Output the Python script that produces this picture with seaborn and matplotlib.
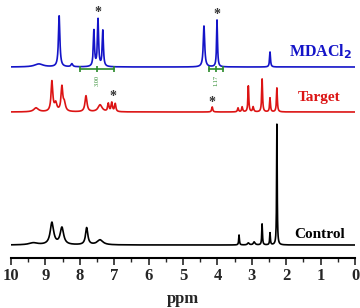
import matplotlib
matplotlib.use('Agg')
import matplotlib.pyplot as plt
import numpy as np
import pandas as pd
import seaborn as sns
from matplotlib.ticker import MultipleLocator

# Peak lists (ppm, height, half width)
blue_pos = [9.19, 8.60, 8.23, 7.59, 7.47, 7.33, 4.39, 4.01, 2.47]
blue_h = [3, 51, 3, 36, 47, 36, 41, 47, 15]
blue_w = [0.15, 0.025, 0.03, 0.02, 0.02, 0.02, 0.025, 0.016, 0.016]

red_pos = [9.27, 8.81, 8.70, 8.52, 8.45, 7.82, 7.41, 7.17, 7.07, 6.97,
           4.15, 3.40, 3.28, 3.10, 2.96, 2.70, 2.47, 2.27]
red_h = [4, 30, 8, 24, 8, 16, 7, 8, 9, 8, 5, 4, 5, 26, 5, 33, 14, 24]
red_w = [0.08, 0.03, 0.04, 0.03, 0.04, 0.035, 0.07, 0.022, 0.022, 0.022,
         0.018, 0.018, 0.018, 0.015, 0.02, 0.015, 0.015, 0.015]

black_pos = [9.35, 8.81, 8.52, 7.80, 7.41, 3.37, 3.10, 2.93, 2.70, 2.47, 2.27]
black_h = [2, 22, 17, 17, 5, 10, 2, 3, 21, 12, 121]
black_w = [0.15, 0.06, 0.06, 0.04, 0.1, 0.012, 0.03, 0.03, 0.012, 0.012, 0.01]

offsets = {'MDACl2': 191, 'Target': 146, 'Control': 13}
colors = {'MDACl2': '#1414c8', 'Target': '#dc1414', 'Control': 'black'}

star_ppm = [7.47, 4.01, 7.03, 4.16]
star_y = [245, 244, 161, 156]

integ_ranges = [(8.0, 7.0), (4.24, 3.84)]
integ_labels = ['3.00', '1.17']


def spectrum(pos, h, w, ppm):
    y = np.zeros_like(ppm)
    for p, a, g in zip(pos, h, w):
        y += a * g**2 / ((ppm - p)**2 + g**2)
    return y


ppm = np.linspace(0, 10, 5000)
frames = []
for name, (pos, h, w) in {'MDACl2': (blue_pos, blue_h, blue_w),
                          'Target': (red_pos, red_h, red_w),
                          'Control': (black_pos, black_h, black_w)}.items():
    frames.append(pd.DataFrame({'ppm': ppm,
                                'I': spectrum(pos, h, w, ppm) + offsets[name],
                                'sample': name}))
df = pd.concat(frames)

sns.set_style('white')
plt.rcParams['font.family'] = ['Liberation Serif', 'DejaVu Serif']

fig = plt.figure(figsize=(3.6, 3.08), dpi=100)
ax = fig.add_axes([11 / 360, 1 - 258 / 308, 344 / 360, 258 / 308])

for name in ['Control', 'Target', 'MDACl2']:
    sns.lineplot(data=df[df['sample'] == name], x='ppm', y='I', ax=ax,
                 color=colors[name], lw=1.2, estimator=None, sort=False, legend=False)

for x, y in zip(star_ppm, star_y):
    ax.text(x, y, '*', ha='center', va='center', fontsize=10, fontweight='bold', color='#333333')

for (a, b), lab in zip(integ_ranges, integ_labels):
    mid = (a + b) / 2
    ax.plot([a, b], [189, 189], color='#2a8a2a', lw=1.2)
    ax.plot([a, mid, b], [189, 189, 189], ls='none', marker='|', ms=5, mew=1.2, color='#2a8a2a')
    ax.text(mid, 177, lab, rotation=90, ha='center', va='center', fontsize=4.5, color='#2a8a2a')

ax.text(0.08, 206, r'MDACl$_\mathbf{2}$', ha='right', va='center', fontsize=11.5,
        fontweight='bold', color=colors['MDACl2'])
ax.text(0.43, 161, 'Target', ha='right', va='center', fontsize=11,
        fontweight='bold', color=colors['Target'])
ax.text(0.29, 24, 'Control', ha='right', va='center', fontsize=11,
        fontweight='bold', color='black')

ax.set_xlim(10, 0)
ax.set_ylim(0, 258)
ax.set_yticks([])
ax.xaxis.set_major_locator(MultipleLocator(1))
ax.xaxis.set_minor_locator(MultipleLocator(0.5))
ax.tick_params(axis='x', which='major', direction='out', length=5, width=1.2,
               labelsize=12, pad=2, bottom=True)
ax.tick_params(axis='x', which='minor', direction='out', length=3, width=1.0, bottom=True)
for lab in ax.get_xticklabels():
    lab.set_fontweight('bold')
for s in ['top', 'left', 'right']:
    ax.spines[s].set_visible(False)
ax.spines['bottom'].set_linewidth(1.5)
ax.spines['bottom'].set_color('black')
ax.set_xlabel('ppm', fontsize=12, fontweight='bold', labelpad=5)
ax.set_ylabel('')
ax.patch.set_alpha(0)

fig.savefig('out.png', dpi=100)
